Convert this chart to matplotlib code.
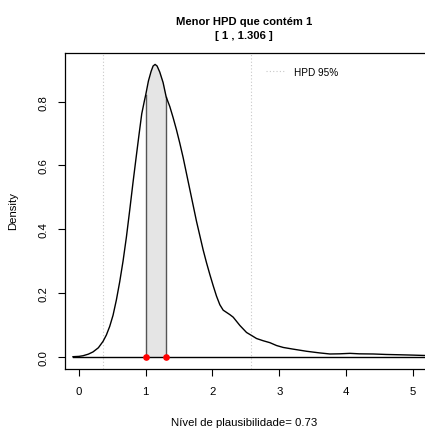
import matplotlib

matplotlib.use("Agg")
import matplotlib.pyplot as plt
import numpy as np
from matplotlib.lines import Line2D

plt.rcParams["font.family"] = ["Liberation Sans", "DejaVu Sans"]

# density curve
DENS_X = [
    -0.09, 0.00, 0.06, 0.14, 0.21, 0.29, 0.36, 0.41, 0.46, 0.51,
    0.56, 0.61, 0.66, 0.71, 0.76, 0.81, 0.86, 0.90, 0.94, 0.98,
    1.00, 1.04, 1.08, 1.11, 1.14, 1.17, 1.21, 1.26, 1.306, 1.36,
    1.41, 1.46, 1.51, 1.56, 1.61, 1.66, 1.71, 1.76, 1.81, 1.86,
    1.91, 1.96, 2.01, 2.06, 2.11, 2.16, 2.21, 2.26, 2.31, 2.36,
    2.41, 2.46, 2.51, 2.59, 2.66, 2.76, 2.86, 2.96, 3.06, 3.20,
    3.41, 3.60, 3.76, 3.90, 4.06, 4.20, 4.41, 4.60, 4.81, 5.00,
    5.30,
]
DENS_Y = [
    0.000, 0.001, 0.003, 0.008, 0.015, 0.028, 0.048, 0.068, 0.095, 0.130,
    0.178, 0.235, 0.300, 0.375, 0.460, 0.548, 0.632, 0.698, 0.762, 0.803,
    0.822, 0.865, 0.895, 0.912, 0.917, 0.912, 0.893, 0.860, 0.815, 0.785,
    0.750, 0.712, 0.670, 0.625, 0.575, 0.525, 0.475, 0.425, 0.380, 0.335,
    0.295, 0.258, 0.223, 0.190, 0.163, 0.146, 0.139, 0.132, 0.124, 0.111,
    0.098, 0.087, 0.076, 0.066, 0.057, 0.050, 0.044, 0.035, 0.029, 0.024,
    0.017, 0.012, 0.0085, 0.009, 0.0105, 0.009, 0.0085, 0.007, 0.006, 0.005,
    0.003,
]
HPD_95 = [0.364, 2.58]
HPD_MIN = [1.0, 1.306]
PLAUSIBILITY = 0.73

X_TICKS = [0, 1, 2, 3, 4, 5]
Y_TICKS = [0.0, 0.2, 0.4, 0.6, 0.8]


def main() -> None:
    fig = plt.figure(figsize=(4.25, 4.31), dpi=100)
    ax = fig.add_axes([65 / 425, 61 / 431, 363 / 425, 316 / 431])

    x = np.array(DENS_X)
    y = np.array(DENS_Y)

    # HPD 95% limits
    for limit in HPD_95:
        ax.axvline(limit, color="#c8c8c8", linestyle=(0, (1, 2)), linewidth=0.8, zorder=1)

    # shaded smallest HPD containing 1
    mask = (x >= HPD_MIN[0]) & (x <= HPD_MIN[1])
    ax.fill_between(x[mask], 0, y[mask], color="#e5e5e5", linewidth=0, zorder=2)
    for limit in HPD_MIN:
        top = np.interp(limit, x, y)
        ax.plot([limit, limit], [0, top], color="#555555", linewidth=1.0, zorder=3)

    ax.plot([x[0], x[-1]], [0, 0], color="black", linewidth=1.0, zorder=3)
    ax.plot(x, y, color="black", linewidth=1.0, zorder=4)
    ax.plot(HPD_MIN, [0, 0], "o", color="red", markersize=3.8, zorder=5)

    ax.set_xlim(-0.2097, 5.2285)
    ax.set_ylim(-0.0386, 0.9528)
    ax.set_xticks(X_TICKS)
    ax.set_xticklabels([str(t) for t in X_TICKS])
    ax.set_yticks(Y_TICKS)
    ax.set_yticklabels([f"{t:.1f}" for t in Y_TICKS])
    ax.tick_params(direction="out", length=5, width=0.8, labelsize=8.2, pad=7)
    ax.tick_params(axis="y", labelrotation=90)
    for label in ax.get_yticklabels():
        label.set_va("center")
    for spine in ax.spines.values():
        spine.set_linewidth(0.9)

    legend_handles = [
        Line2D([0], [0], color="#c8c8c8", linestyle=(0, (1, 2)), linewidth=0.8, label="HPD 95%")
    ]
    ax.legend(
        handles=legend_handles,
        loc="upper left",
        bbox_to_anchor=(0.53, 0.985),
        frameon=False,
        fontsize=7.2,
        handlelength=2.0,
        handletextpad=0.8,
    )

    fig.text(244 / 425, 1 - 22 / 431, "Menor HPD que contém 1", ha="center", va="center",
             fontsize=8.1, fontweight="bold")
    fig.text(244 / 425, 1 - 36 / 431, f"[ {HPD_MIN[0]:g} , {HPD_MIN[1]} ]", ha="center",
             va="center", fontsize=8.1, fontweight="bold")
    fig.text(244 / 425, 1 - 423 / 431, f"Nível de plausibilidade= {PLAUSIBILITY}",
             ha="center", va="center", fontsize=8.2)
    fig.text(13 / 425, 1 - 211 / 431, "Density", ha="center", va="center", rotation=90,
             fontsize=8.2)

    fig.savefig("out.png", dpi=100)
    plt.close(fig)


if __name__ == "__main__":
    main()
